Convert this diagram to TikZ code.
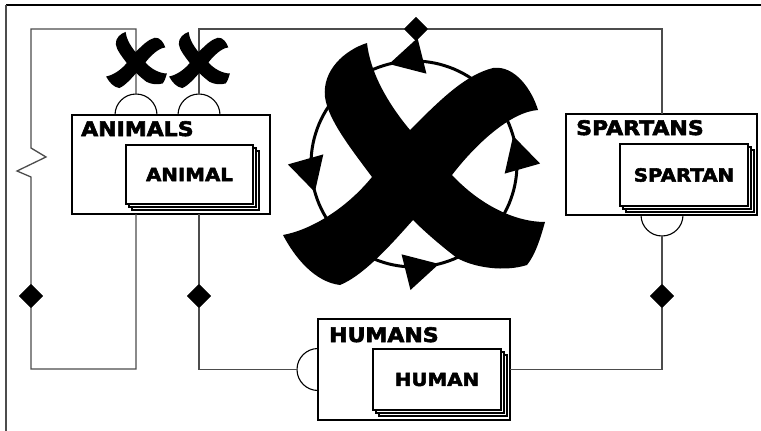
\documentclass[tikz,border=0pt]{standalone}
\usepackage{fontspec}
\usepackage{tikz}
\usetikzlibrary{shapes.geometric,shadows,arrows.meta,decorations.markings}
\newfontfamily\boxfont{DejaVu Sans}[UprightFont=* Bold,FakeStretch=1.1,FakeBold=3]

\tikzset{
  bigcross/.pic={
    \fill (-47,-121)
      .. controls (-44,-94) and (-29,-64) .. (-4,-34)
      .. controls (26,-64) and (51,-89) .. (79,-96)
      .. controls (101,-99) and (118,-74) .. (124,-54)
      .. controls (96,-52) and (61,-19) .. (38,11)
      .. controls (66,41) and (101,58) .. (131,58)
      .. controls (126,76) and (121,91) .. (113,101)
      .. controls (91,108) and (61,104) .. (43,94)
      .. controls (26,81) and (11,68) .. (-1,56)
      .. controls (-19,76) and (-49,111) .. (-74,121)
      .. controls (-99,118) and (-119,94) .. (-131,71)
      .. controls (-104,66) and (-69,46) .. (-42,13)
      .. controls (-62,-14) and (-86,-44) .. (-89,-67)
      .. controls (-92,-94) and (-69,-114) .. (-47,-121) -- cycle;
  }
}

\begin{document}
\begin{tikzpicture}[x=1pt,y=-1pt,
  wire/.style={draw=black!70,line width=1.3pt},
  cup/.style={draw=black,line width=1.1pt},
  setbox/.style={draw,line width=2.4pt,fill=white,inner sep=0,outer sep=0},
  itembox/.style={draw,line width=2pt,fill=white,inner sep=0,outer sep=0,
    font=\boxfont\fontsize{18pt}{19pt}\selectfont,
    copy shadow={shadow xshift=5.5pt,shadow yshift=-5.5pt},
    copy shadow={shadow xshift=3pt,shadow yshift=-3pt}},
  title/.style={inner sep=0,anchor=base west,font=\boxfont\fontsize{20pt}{21pt}\selectfont},
  dmd/.style={diamond,fill=black,inner sep=0,minimum width=24pt,minimum height=24pt},
  ring/.style={line width=3pt,postaction={decorate},decoration={markings,
    mark=at position 0.044 with {\arrow{Triangle[length=34pt,width=36pt]}},
    mark=at position 0.289 with {\arrow{Triangle[length=34pt,width=36pt]}},
    mark=at position 0.544 with {\arrow{Triangle[length=34pt,width=36pt]}},
    mark=at position 0.789 with {\arrow{Triangle[length=34pt,width=36pt]}}}},
]
\useasboundingbox (0,0) rectangle (761,431);

% frame
\draw[line width=1.4pt] (6,5) -- (761,5);
\draw[black!70,line width=1.4pt] (6,5) -- (6,431);

% sets
\node[setbox,minimum width=198pt,minimum height=99pt] (animals) at (171,164.5) {};
\node[setbox,minimum width=191pt,minimum height=101pt] (spartans) at (661.5,164.5) {};
\node[setbox,minimum width=192pt,minimum height=101pt] (humans) at (414,369.5) {};
\node[title] (animalsT) at (81,136) {ANIMALS};
\node[title] (spartansT) at (576,135) {SPARTANS};
\node[title] (humansT) at (329,342) {HUMANS};
\node[itembox,minimum width=127pt,minimum height=59pt] (animal) at (189.5,174.5) {ANIMAL};
\node[itembox,minimum width=128pt,minimum height=62pt] (spartan) at (684,175) {SPARTAN};
\node[itembox,minimum width=128pt,minimum height=61pt] (human) at (437,379.5) {HUMAN};

% half circles on the sets
\coordinate (sa) at (136,94);
\coordinate (sb) at (199,94);
\coordinate (ss) at (662,236);
\coordinate (sh) at (297,369.5);
\draw[cup] (115,115) arc[start angle=180,end angle=360,radius=21];
\draw[cup] (178,115) arc[start angle=180,end angle=360,radius=21];
\draw[cup] (641,215) arc[start angle=180,end angle=0,radius=21];
\draw[cup] (318,348.5) arc[start angle=270,end angle=90,radius=21];

% diamonds
\node[dmd] (dTop) at (416,29) {};
\node[dmd] (dA) at (31,296) {};
\node[dmd] (dB) at (199,296) {};
\node[dmd] (dS) at (662,296) {};

% wires
\coordinate (lt) at (31,29);
\coordinate (lb) at (31,369);
\draw[wire] (sa) |- (lt) -- (31,148) -- (46,157) -- (17,171) -- (31,177)
  -- (dA.center) -- (lb) -| (animals.south -| sa);
\draw[wire] (sb) |- (dTop.center) -| (spartans.north -| ss);
\draw[wire] (animals.south -| sb) -- (dB.center) |- (sh);
\draw[wire] (ss) -- (dS.center) |- (humans.east);
\node[dmd] at (dTop) {};
\node[dmd] at (dA) {};
\node[dmd] at (dB) {};
\node[dmd] at (dS) {};

% crossed links
\pic (xa) [scale=0.232] at (136.5,60) {bigcross};
\pic (xb) [scale=0.232] at (199.5,60) {bigcross};

% cycle
\draw[ring] (517,164) arc[start angle=0,end angle=-360,radius=103];
\pic (xc) at (414,164) {bigcross};
\end{tikzpicture}
\end{document}
